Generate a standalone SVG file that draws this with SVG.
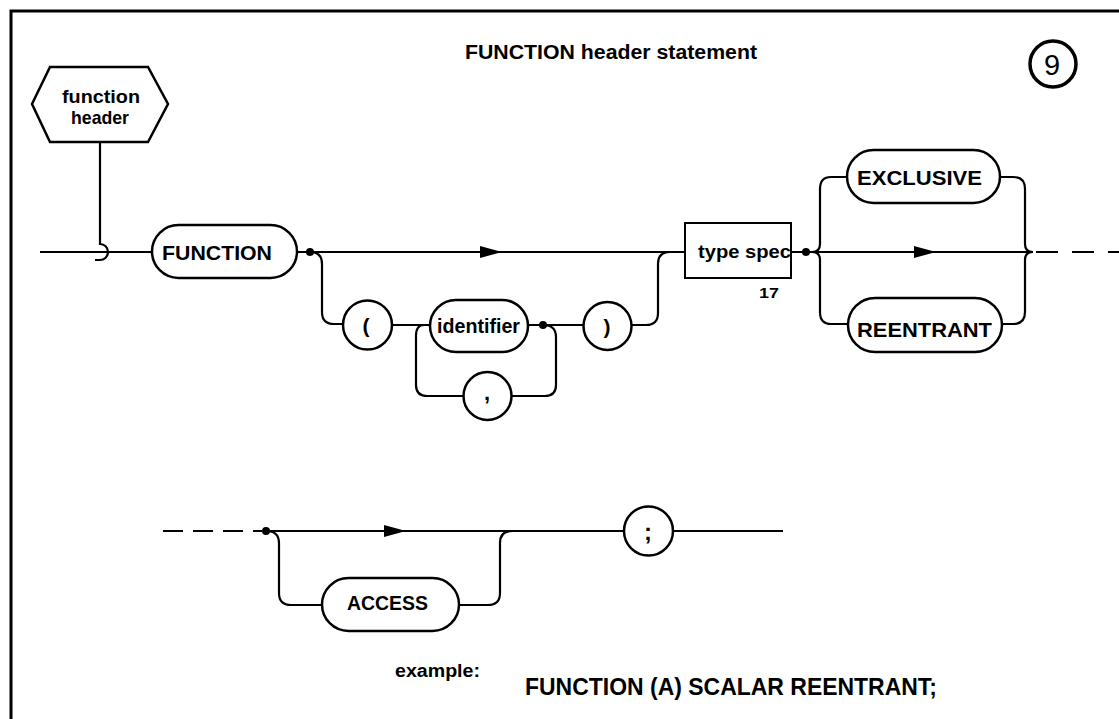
<svg xmlns="http://www.w3.org/2000/svg" width="1119" height="719" viewBox="0 0 1119 719">
<style>
.ln{fill:none;stroke:#000;stroke-width:2.2}
.bx{fill:#fff;stroke:#000;stroke-width:2.5}
.t{font-family:"Liberation Sans",Arial,sans-serif;font-weight:bold;fill:#000}
.dot{fill:#000}
</style>
<defs>
<path id="arr" d="M0,-6 L22,0 L0,6 Z" fill="#000"/>
</defs>
<rect width="1119" height="719" fill="#fff"/>
<g id="frame">
<path d="M11,719 V11 H1119" fill="none" stroke="#000" stroke-width="3"/>
</g>
<g id="title">
<text class="t" x="465" y="59" font-size="20" textLength="292" lengthAdjust="spacingAndGlyphs">FUNCTION header statement</text>
</g>
<g id="badge">
<circle cx="1053" cy="64" r="23" fill="none" stroke="#000" stroke-width="3.5"/>
<text x="1052" y="75" font-size="29" text-anchor="middle" font-family="Liberation Sans,Arial,sans-serif">9</text>
</g>
<g id="connectors">
<path class="ln" d="M40,252 H152"/>
<path class="ln" d="M100,142 V244 A8,8 0 0 1 100,260 H95"/>
<path class="ln" d="M297,252 H685"/>
<path class="ln" d="M310,252 Q322,252 322,264 V312 Q322,324 334,324 H343"/>
<path class="ln" d="M392,325 H430"/>
<path class="ln" d="M424,325 Q416,325 416,336 V385 Q416,396 427,396 H463"/>
<path class="ln" d="M528,325 H583"/>
<path class="ln" d="M543,325 Q556,325 556,337 V385 Q556,396 545,396 H512"/>
<path class="ln" d="M632,325 H646 Q658,325 658,313 V264 Q658,252 670,252"/>
<path class="ln" d="M791,252 H1032"/>
<path class="ln" d="M847,177 H831 Q820,177 820,189 V244 Q820,252 812,252 Q820,252 820,260 V312 Q820,324 831,324 H848"/>
<path class="ln" d="M1000,177 H1013 Q1025,177 1025,189 V244 Q1025,252 1033,252 Q1025,252 1025,260 V312 Q1025,324 1013,324 H1002"/>
<path class="ln" d="M1036,252 H1119" stroke-dasharray="22 14"/>
<path class="ln" d="M163,531 H262" stroke-dasharray="20 10"/>
<path class="ln" d="M266,531 H624"/>
<path class="ln" d="M673,531 H783"/>
<path class="ln" d="M266,531 Q279,531 279,543 V593 Q279,605 291,605 H322"/>
<path class="ln" d="M459,605 H488 Q500,605 500,593 V543 Q500,531 512,531"/>
<use href="#arr" x="480" y="252"/>
<use href="#arr" x="914" y="252"/>
<use href="#arr" x="384" y="531"/>
<circle class="dot" cx="310" cy="252" r="4"/>
<circle class="dot" cx="543" cy="325" r="4"/>
<circle class="dot" cx="806" cy="252" r="4"/>
<circle class="dot" cx="266" cy="531" r="4"/>
</g>
<g id="function-header">
<polygon class="bx" points="50,67 148,67 168,104 148,142 50,142 32,104"/>
<text class="t" x="62" y="103" font-size="19" textLength="78" lengthAdjust="spacingAndGlyphs">function</text>
<text class="t" x="71" y="124" font-size="19" textLength="58" lengthAdjust="spacingAndGlyphs">header</text>
</g>
<g id="FUNCTION">
<rect class="bx" x="152" y="225" width="145" height="53" rx="26.5"/>
<text class="t" x="162" y="260" font-size="21" textLength="110" lengthAdjust="spacingAndGlyphs">FUNCTION</text>
</g>
<g id="lparen">
<circle class="bx" cx="367.5" cy="325" r="24.5"/>
<text class="t" x="366" y="333" font-size="21" text-anchor="middle">(</text>
</g>
<g id="identifier">
<rect class="bx" x="430" y="300" width="98" height="52" rx="26"/>
<text class="t" x="437" y="333" font-size="20" textLength="83" lengthAdjust="spacingAndGlyphs">identifier</text>
</g>
<g id="comma">
<circle class="bx" cx="487.5" cy="396" r="24"/>
<text class="t" x="487" y="400" font-size="22" text-anchor="middle">,</text>
</g>
<g id="rparen">
<circle class="bx" cx="607.5" cy="326" r="24"/>
<text class="t" x="607" y="334" font-size="21" text-anchor="middle">)</text>
</g>
<g id="type-spec">
<rect x="685" y="223" width="106" height="55" fill="#fff" stroke="#000" stroke-width="2"/>
<text class="t" x="698" y="258" font-size="19" textLength="93" lengthAdjust="spacingAndGlyphs">type spec</text>
<text class="t" x="759" y="298" font-size="15" textLength="20" lengthAdjust="spacingAndGlyphs">17</text>
</g>
<g id="EXCLUSIVE">
<rect class="bx" x="847" y="150" width="153" height="53" rx="26.5"/>
<text class="t" x="857" y="185" font-size="21" textLength="125" lengthAdjust="spacingAndGlyphs">EXCLUSIVE</text>
</g>
<g id="REENTRANT">
<rect class="bx" x="848" y="298" width="154" height="54" rx="27"/>
<text class="t" x="857" y="337" font-size="21" textLength="135" lengthAdjust="spacingAndGlyphs">REENTRANT</text>
</g>
<g id="ACCESS">
<rect class="bx" x="322" y="578" width="137" height="53" rx="26.5"/>
<text class="t" x="347" y="610" font-size="20" textLength="81" lengthAdjust="spacingAndGlyphs">ACCESS</text>
</g>
<g id="semicolon">
<circle class="bx" cx="648.5" cy="531" r="24.5"/>
<text class="t" x="648" y="540" font-size="24" text-anchor="middle">;</text>
</g>
<g id="example">
<text class="t" x="395" y="677" font-size="18" textLength="85" lengthAdjust="spacingAndGlyphs">example:</text>
<text class="t" x="525" y="695" font-size="23" textLength="412" lengthAdjust="spacingAndGlyphs">FUNCTION (A) SCALAR REENTRANT;</text>
</g>
</svg>
